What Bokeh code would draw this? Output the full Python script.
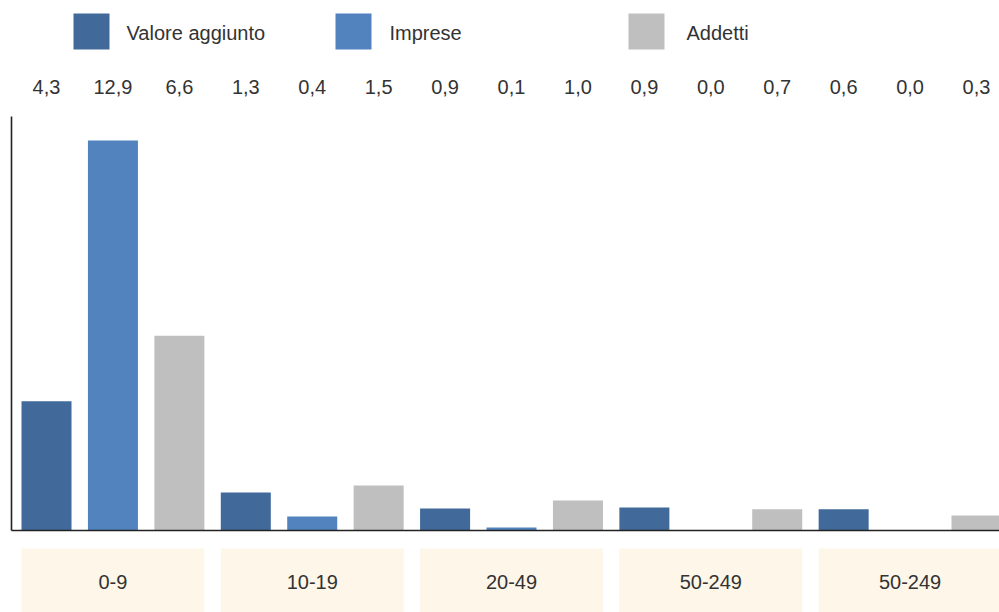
from bokeh.plotting import figure
from bokeh.layouts import column
from bokeh.models import Range1d, LinearAxis, FixedTicker, ColumnDataSource
from bokeh.core.properties import value
from bokeh.embed import file_html
from bokeh.resources import INLINE

# ---------------- data ----------------
groups = ["0-9", "10-19", "20-49", "50-249", "50-249"]
series = ["Valore aggiunto", "Imprese", "Addetti"]
valore_aggiunto = [4.27, 1.26, 0.73, 0.76, 0.70]
imprese = [12.9, 0.46, 0.10, 0.0, 0.0]
addetti = [6.44, 1.49, 0.99, 0.70, 0.50]
valore_labels = ["4,3", "1,3", "0,9", "0,9", "0,6"]
imprese_labels = ["12,9", "0,4", "0,1", "0,0", "0,0"]
addetti_labels = ["6,6", "1,5", "1,0", "0,7", "0,3"]
colors = ["#416a9b", "#5283be", "#bfbfbf"]

FONT = value("Liberation Sans")
TXT = "#333333"
FS = "20px"
W = 999
LB = 11  # left border shared by all stacked figures

# ------------- derived tables -------------
series_vals = [valore_aggiunto, imprese, addetti]
series_lbls = [valore_labels, imprese_labels, addetti_labels]
n_series = len(series)
xs, tops, cols, lbls = [], [], [], []
for g in range(len(groups)):
    for j in range(n_series):
        xs.append(g * n_series + j)
        tops.append(series_vals[j][g])
        cols.append(colors[j])
        lbls.append(series_lbls[j][g])

x_range = Range1d(-0.527, 14.346)

# ------------- legend strip -------------
leg = figure(width=W, height=62, x_range=Range1d(LB, W), y_range=Range1d(0, 62),
             output_backend="svg", toolbar_location=None,
             min_border_left=LB, min_border_right=0,
             min_border_top=0, min_border_bottom=0)
leg.axis.visible = False
leg.grid.visible = False
leg.outline_line_color = None
leg_x = [91, 353, 646]
leg_tx = [126, 389, 686]
leg_src = ColumnDataSource(dict(x=leg_x, tx=leg_tx, y=[31] * 3,
                                ty=[30] * 3, c=colors, name=series))
leg.rect(x="x", y="y", width=36, height=36, width_units="screen", height_units="screen",
         fill_color="c", line_color=None, source=leg_src)
leg.text(x="tx", y="ty", text="name", source=leg_src, text_font=FONT,
         text_font_size=FS, text_color=TXT, text_baseline="middle", text_align="left")

# ------------- bar figure -------------
p = figure(width=W, height=478, x_range=x_range, y_range=Range1d(0, 13.69),
           output_backend="svg", toolbar_location=None,
           min_border_left=LB, min_border_right=0, min_border_top=54, min_border_bottom=10)
p.grid.visible = False
p.outline_line_color = None
src = ColumnDataSource(dict(x=xs, top=tops, c=cols))
p.vbar(x="x", top="top", width=0.753, bottom=0, fill_color="c", line_color=None, source=src)

for ax in (p.xaxis[0], p.yaxis[0]):
    ax.ticker = FixedTicker(ticks=[])
    ax.major_tick_line_color = None
    ax.minor_tick_line_color = None
    ax.major_label_text_font_size = "0px"
    ax.major_label_standoff = 0
    ax.axis_line_color = "#222222"
    ax.axis_line_width = 1.6

top_ax = LinearAxis(ticker=FixedTicker(ticks=xs),
                    major_label_overrides={x: l for x, l in zip(xs, lbls)})
top_ax.axis_line_color = None
top_ax.major_tick_line_color = None
top_ax.minor_tick_line_color = None
top_ax.major_label_text_font = "Liberation Sans"
top_ax.major_label_text_font_size = FS
top_ax.major_label_text_color = TXT
top_ax.major_label_standoff = 17
p.add_layout(top_ax, "above")

# ------------- category boxes -------------
box = figure(width=W, height=72, x_range=x_range, y_range=Range1d(0, 72),
             output_backend="svg", toolbar_location=None,
             min_border_left=LB, min_border_right=0, min_border_top=0, min_border_bottom=0)
box.axis.visible = False
box.grid.visible = False
box.outline_line_color = None
half = 0.753 / 2
bsrc = ColumnDataSource(dict(
    left=[g * n_series - half for g in range(len(groups))],
    right=[g * n_series + n_series - 1 + half for g in range(len(groups))],
    cx=[g * n_series + (n_series - 1) / 2 for g in range(len(groups))],
    name=groups))
box.quad(left="left", right="right", bottom=0, top=64, fill_color="#fdf6e9",
         line_color=None, source=bsrc)
box.text(x="cx", y=31, text="name", source=bsrc, text_font=FONT, text_font_size=FS,
         text_color=TXT, text_align="center", text_baseline="middle")

layout = column(leg, p, box)
open("out.html", "w").write(file_html(layout, INLINE))
